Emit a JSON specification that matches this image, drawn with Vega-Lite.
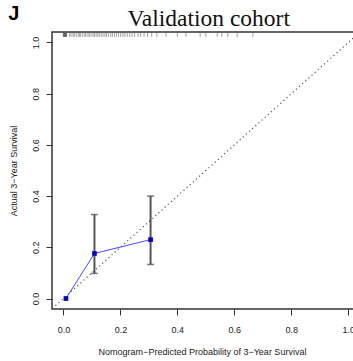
{
  "$schema": "https://vega.github.io/schema/vega-lite/v6.json",
  "width": 302,
  "height": 277,
  "autosize": {"type": "none"},
  "padding": {"left": 52, "top": 32, "right": 0, "bottom": 52},
  "config": {
    "view": {"stroke": "#333", "strokeWidth": 1.5},
    "axis": {"grid": false, "domain": false, "tickColor": "#333", "tickWidth": 1, "tickSize": 6, "labelFont": "Liberation Sans", "labelFontSize": 9, "labelColor": "#222", "titleFont": "Liberation Sans", "titleFontSize": 9, "titleFontWeight": "normal", "titleColor": "#222"}
  },
  "datasets": {
    "cal": [
      {"pred": 0.009, "obs": 0.0},
      {"pred": 0.109, "obs": 0.176, "lo": 0.098, "hi": 0.328},
      {"pred": 0.306, "obs": 0.230, "lo": 0.133, "hi": 0.40}
    ],
    "diag": [{"p": -0.05, "o": -0.05}, {"p": 1.06, "o": 1.06}],
    "rug": [
      {"p": 0.0}, {"p": 0.0}, {"p": 0.002}, {"p": 0.003}, {"p": 0.004}, {"p": 0.005}, {"p": 0.006}, {"p": 0.007}, {"p": 0.008}, {"p": 0.009}, {"p": 0.010}, {"p": 0.011},
      {"p": 0.021}, {"p": 0.027}, {"p": 0.034}, {"p": 0.038}, {"p": 0.045}, {"p": 0.052}, {"p": 0.057}, {"p": 0.061}, {"p": 0.068}, {"p": 0.075}, {"p": 0.079}, {"p": 0.086},
      {"p": 0.091}, {"p": 0.097}, {"p": 0.104}, {"p": 0.109}, {"p": 0.115}, {"p": 0.121}, {"p": 0.126}, {"p": 0.133}, {"p": 0.139}, {"p": 0.146}, {"p": 0.151}, {"p": 0.158},
      {"p": 0.166}, {"p": 0.172}, {"p": 0.179}, {"p": 0.186}, {"p": 0.193}, {"p": 0.201}, {"p": 0.209}, {"p": 0.216}, {"p": 0.224}, {"p": 0.233}, {"p": 0.241}, {"p": 0.25},
      {"p": 0.262}, {"p": 0.271}, {"p": 0.283}, {"p": 0.295}, {"p": 0.31}, {"p": 0.328},
      {"p": 0.36}, {"p": 0.40}, {"p": 0.43}, {"p": 0.48}, {"p": 0.50}, {"p": 0.54}, {"p": 0.556}, {"p": 0.577}, {"p": 0.61}, {"p": 0.665}
    ],
    "labels": [
      {"t": "J", "lx": -0.174, "ly": 1.11, "kind": "panel"},
      {"t": "Validation cohort", "lx": 0.51, "ly": 1.064, "kind": "title"}
    ]
  },
  "layer": [
    {
      "data": {"name": "diag"},
      "mark": {"type": "line", "color": "#555", "strokeWidth": 1.2, "strokeDash": [1.2, 3], "clip": true},
      "encoding": {
        "x": {"field": "p", "type": "quantitative", "scale": {"domain": [-0.04, 1.02], "nice": false, "zero": false},
          "axis": {"values": [0, 0.2, 0.4, 0.6, 0.8, 1.0], "format": ".1f", "title": "Nomogram−Predicted Probability of 3−Year Survival", "labelPadding": 10, "titlePadding": 13, "titleX": 150}},
        "y": {"field": "o", "type": "quantitative", "scale": {"domain": [-0.041, 1.041], "nice": false, "zero": false},
          "axis": {"values": [0, 0.2, 0.4, 0.6, 0.8, 1.0], "format": ".1f", "title": "Actual 3−Year Survival", "labelAngle": 270, "labelAlign": "center", "labelBaseline": "bottom", "labelPadding": 6, "titlePadding": 13}}
      }
    },
    {
      "data": {"name": "rug"},
      "mark": {"type": "rule", "color": "#555", "strokeWidth": 1, "opacity": 0.55},
      "encoding": {
        "x": {"field": "p", "type": "quantitative"},
        "y": {"datum": 1.04},
        "y2": {"datum": 1.022}
      }
    },
    {
      "data": {"name": "cal"},
      "mark": {"type": "rule", "color": "#555", "strokeWidth": 2},
      "encoding": {
        "x": {"field": "pred", "type": "quantitative"},
        "y": {"field": "lo", "type": "quantitative"},
        "y2": {"field": "hi"}
      }
    },
    {
      "data": {"name": "cal"},
      "mark": {"type": "tick", "orient": "horizontal", "color": "#444", "size": 7, "thickness": 1.5},
      "encoding": {
        "x": {"field": "pred", "type": "quantitative"},
        "y": {"field": "lo", "type": "quantitative"}
      }
    },
    {
      "data": {"name": "cal"},
      "mark": {"type": "tick", "orient": "horizontal", "color": "#444", "size": 7, "thickness": 1.5},
      "encoding": {
        "x": {"field": "pred", "type": "quantitative"},
        "y": {"field": "hi", "type": "quantitative"}
      }
    },
    {
      "data": {"name": "cal"},
      "mark": {"type": "line", "color": "#4a4aff", "strokeWidth": 1},
      "encoding": {
        "x": {"field": "pred", "type": "quantitative"},
        "y": {"field": "obs", "type": "quantitative"}
      }
    },
    {
      "data": {"name": "cal"},
      "mark": {"type": "point", "shape": "square", "filled": true, "color": "#0000cc", "size": 22, "opacity": 1},
      "encoding": {
        "x": {"field": "pred", "type": "quantitative"},
        "y": {"field": "obs", "type": "quantitative"}
      }
    },
    {
      "data": {"name": "labels"},
      "transform": [{"filter": "datum.kind == 'panel'"}],
      "mark": {"type": "text", "font": "Liberation Sans", "fontSize": 20, "fontWeight": "bold", "color": "#000", "align": "center", "baseline": "middle", "clip": false},
      "encoding": {
        "x": {"field": "lx", "type": "quantitative"},
        "y": {"field": "ly", "type": "quantitative"},
        "text": {"field": "t"}
      }
    },
    {
      "data": {"name": "labels"},
      "transform": [{"filter": "datum.kind == 'title'"}],
      "mark": {"type": "text", "font": "Liberation Serif", "fontSize": 23.5, "fontWeight": "normal", "color": "#111", "align": "center", "baseline": "alphabetic", "clip": false},
      "encoding": {
        "x": {"field": "lx", "type": "quantitative"},
        "y": {"field": "ly", "type": "quantitative"},
        "text": {"field": "t"}
      }
    }
  ]
}
